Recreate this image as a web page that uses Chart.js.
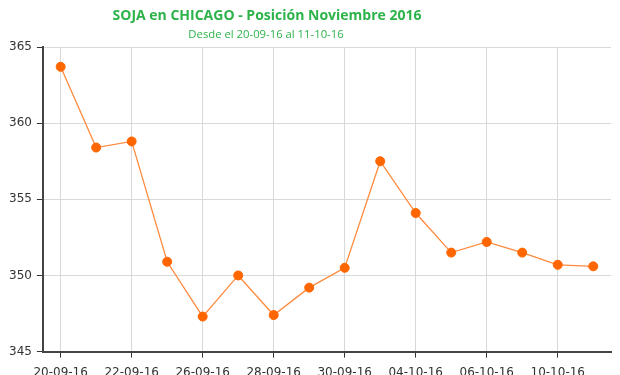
<!DOCTYPE html>
<html><head><meta charset="utf-8">
<script src="https://cdn.jsdelivr.net/npm/chart.js@4.4.0/dist/chart.umd.min.js"></script>
<style>html,body{margin:0;padding:0;overflow:hidden;background:#fff}#wrap{width:620px;height:388px;position:relative}</style>
</head><body><div id="wrap"><canvas id="c"></canvas></div>
<script>
const categories = ["20-09-16","21-09-16","22-09-16","23-09-16","26-09-16","27-09-16","28-09-16","29-09-16","30-09-16","03-10-16","04-10-16","05-10-16","06-10-16","07-10-16","10-10-16","11-10-16"];
const prices = [363.7,358.4,358.8,350.9,347.3,350.0,347.4,349.2,350.5,357.5,354.1,351.5,352.2,351.5,350.7,350.6];
const titleText = "SOJA en CHICAGO - Posición Noviembre 2016";
const subtitleText = "Desde el 20-09-16 al 11-10-16";
const yTicks = [345,350,355,360,365];

const titlePlugin = {
  id:'customTitle',
  afterDraw(chart){
    const ctx = chart.ctx;
    ctx.save();
    ctx.fillStyle = '#2DB34A';
    ctx.textAlign = 'center';
    ctx.textBaseline = 'alphabetic';
    ctx.font = 'bold 14px "Open Sans"';
    ctx.fillText(titleText, 267, 20);
    ctx.font = '11.3px "Open Sans"';
    ctx.fillText(subtitleText, 266, 38);
    ctx.restore();
  }
};

new Chart(document.getElementById('c'), {
  type:'line',
  data:{labels:categories, datasets:[{
    data:prices,
    borderColor:'#FF8A3D',
    borderWidth:1.3,
    backgroundColor:'#FF6600',
    pointBackgroundColor:'#FF6600',
    pointBorderColor:'#FF6600',
    pointRadius:4.5,
    pointBorderWidth:1,
    tension:0,
    fill:false
  }]},
  options:{
    responsive:true, maintainAspectRatio:false, animation:false,
    layout:{padding:{top:47,left:4,right:9,bottom:0}},
    plugins:{legend:{display:false}, title:{display:false}, tooltip:{enabled:false}},
    scales:{
      x:{
        offset:true,
        grid:{color:'#D9D9D9', tickColor:'#333', tickLength:6, lineWidth:1},
        border:{color:'#444', width:2},
        ticks:{autoSkip:false, maxRotation:0, color:'#333', font:{family:'DejaVu Sans', size:12}, padding:8,
          callback:function(v,i){ return i%2===0 ? this.getLabelForValue(v) : null; }}
      },
      y:{
        min:345, max:365,
        afterBuildTicks:(s)=>{ s.ticks = yTicks.map(v=>({value:v})); },
        grid:{color:'#D9D9D9', tickColor:'#333', tickLength:6},
        border:{color:'#444', width:2},
        ticks:{color:'#333', font:{family:'DejaVu Sans', size:12}, padding:5}
      }
    }
  },
  plugins:[titlePlugin]
});
</script></body></html>
